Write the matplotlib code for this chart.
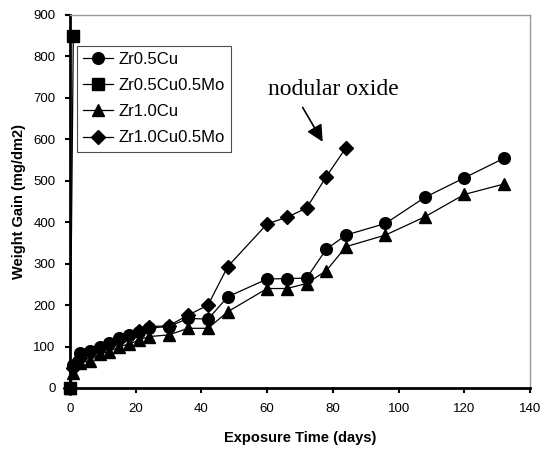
import matplotlib
matplotlib.use("Agg")
import matplotlib.pyplot as plt

plt.rcParams['font.family'] = ['Liberation Sans', 'DejaVu Sans']

days = [0, 1, 3, 6, 9, 12, 15, 18, 21, 24, 30, 36, 42, 48, 60, 66, 72, 78, 84, 96, 108, 120, 132]

zr05cu = [0, 55, 84, 90, 100, 109, 120, 128, 136, 145, 148, 168, 166, 220, 263, 264, 265, 335, 369, 397, 460, 507, 554]
zr05cu05mo_days = [0, 1]
zr05cu05mo = [0, 849]
zr10cu = [0, 35, 60, 66, 82, 88, 100, 106, 116, 124, 128, 144, 144, 184, 240, 240, 252, 283, 341, 369, 413, 467, 492]
zr10cu05mo_days = [0, 1, 3, 6, 9, 12, 15, 18, 21, 24, 30, 36, 42, 48, 60, 66, 72, 78, 84]
zr10cu05mo = [0, 48, 72, 86, 96, 106, 116, 126, 138, 148, 150, 176, 200, 293, 396, 412, 434, 510, 580]

x_ticks = [0, 20, 40, 60, 80, 100, 120, 140]
y_ticks = [0, 100, 200, 300, 400, 500, 600, 700, 800, 900]

fig = plt.figure(figsize=(5.42, 4.49), dpi=100)
ax = fig.add_axes([0.1292, 0.1359, 0.8487, 0.8307])

lw = 0.9
ax.plot(days, zr05cu, color='black', lw=lw, marker='o', ms=8.4, label='Zr0.5Cu', clip_on=False, zorder=3)
ax.plot(zr05cu05mo_days, zr05cu05mo, color='black', lw=lw, marker='s', ms=8, label='Zr0.5Cu0.5Mo', clip_on=False, zorder=3)
ax.plot(days, zr10cu, color='black', lw=lw, marker='^', ms=8.4, label='Zr1.0Cu', clip_on=False, zorder=3)
ax.plot(zr10cu05mo_days, zr10cu05mo, color='black', lw=lw, marker='D', ms=7, label='Zr1.0Cu0.5Mo', clip_on=False, zorder=3)

ax.set_xlim(0, 140)
ax.set_ylim(0, 900)
ax.set_xticks(x_ticks)
ax.set_yticks(y_ticks)
ax.tick_params(axis='both', direction='out', length=3.5, width=1.5, labelsize=9.5)
ax.tick_params(axis='x', pad=7)
ax.tick_params(axis='y', pad=7)

for side in ['left', 'bottom']:
    ax.spines[side].set_linewidth(2)
    ax.spines[side].set_color('black')
for side in ['top', 'right']:
    ax.spines[side].set_linewidth(1)
    ax.spines[side].set_color('#999999')

ax.set_xlabel('Exposure Time (days)', fontsize=10.5, fontweight='bold', labelpad=12)
ax.set_ylabel('Weight Gain (mg/dm2)', fontsize=10.5, fontweight='bold', labelpad=5)

leg = ax.legend(loc='upper left', bbox_to_anchor=(0.0152, 0.918), fontsize=12,
                frameon=True, fancybox=False, edgecolor='#222222', handlelength=1.8,
                handletextpad=0.3, borderpad=0.38, labelspacing=0.67, borderaxespad=0)
leg.get_frame().set_linewidth(0.8)

ax.text(60.3, 707, 'nodular oxide', fontsize=17,
        family=['Liberation Serif', 'DejaVu Serif'], ha='left', va='baseline')
ax.annotate('', xy=(76.9, 594), xytext=(70.8, 677),
            arrowprops=dict(arrowstyle='-|>', color='black', lw=1.2, mutation_scale=25,
                            shrinkA=0, shrinkB=0))

fig.savefig('out.png', dpi=100)
